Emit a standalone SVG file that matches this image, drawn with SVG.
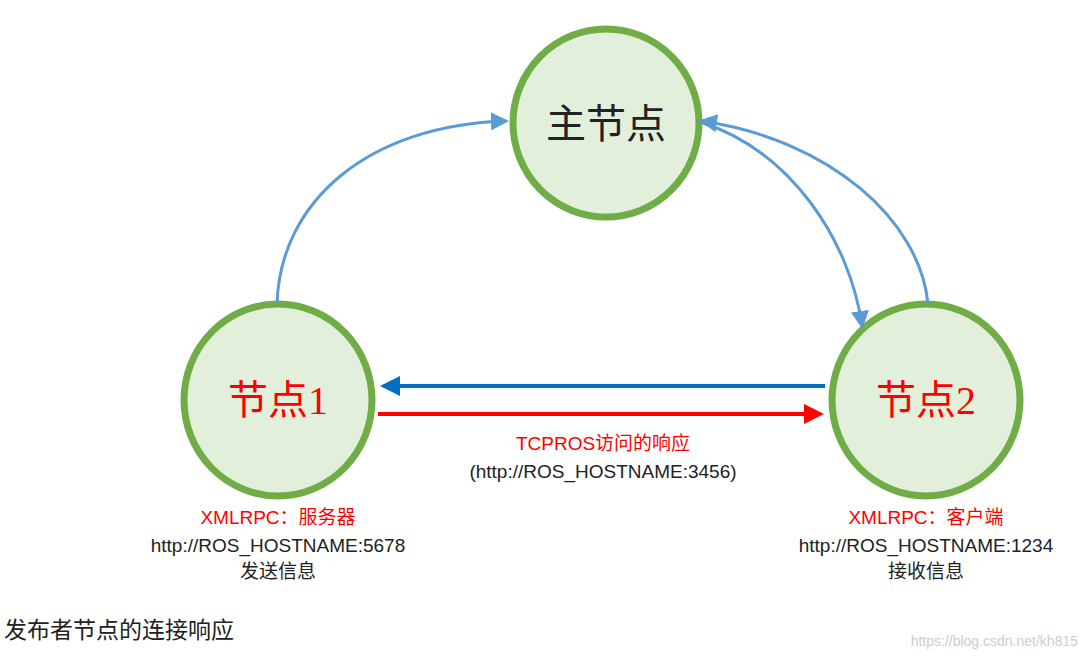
<svg xmlns="http://www.w3.org/2000/svg" width="1083" height="661" viewBox="0 0 1083 661">
<style>
.n{fill:#e2efda;stroke:#70ad47;stroke-width:7}
.cv{fill:none;stroke:#5b9bd5;stroke-width:3}
.lb{font-family:"Liberation Serif","Noto Sans CJK SC",serif;font-size:40px;text-anchor:middle}
.t{font-family:"Liberation Sans","Noto Sans CJK SC",sans-serif;font-size:19px;text-anchor:middle;fill:#222}
.r{fill:#ff0000}
</style>
<defs>
<marker id="ab" markerWidth="6" markerHeight="6" refX="5" refY="3" orient="auto"><path d="M0,0L6,3L0,6z" fill="#5b9bd5"/></marker>
<marker id="ad" markerWidth="5" markerHeight="5" refX="4" refY="2.5" orient="auto"><path d="M0,0L5,2.5L0,5z" fill="#0070c0"/></marker>
<marker id="ar" markerWidth="5" markerHeight="5" refX="4" refY="2.5" orient="auto"><path d="M0,0L5,2.5L0,5z" fill="#ff0000"/></marker>
</defs>
<g id="master"><ellipse class="n" cx="606" cy="123" rx="93" ry="94"/><text class="lb" x="606" y="138" fill="#222">主节点</text></g>
<g id="node1"><ellipse class="n" cx="278" cy="400" rx="94" ry="96"/><text class="lb" x="278" y="414" fill="#ff0000">节点1</text></g>
<g id="node2"><ellipse class="n" cx="926" cy="400" rx="94" ry="96"/><text class="lb" x="926" y="414" fill="#ff0000">节点2</text></g>
<g id="connectors">
<path class="cv" d="M277,304 C280,200 370,125 506,121" marker-end="url(#ab)"/>
<path class="cv" d="M700,122 C790,150 850,240 862,326" marker-end="url(#ab)"/>
<path class="cv" d="M928,304 C920,220 830,140 702,121" marker-end="url(#ab)"/>
<path d="M825,386 L384,386" stroke="#0070c0" stroke-width="4" marker-end="url(#ad)"/>
<path d="M378,414 L820,414" stroke="#ff0000" stroke-width="4" marker-end="url(#ar)"/>
</g>
<text class="t r" x="603" y="450" font-size="23">TCPROS访问的响应</text>
<text class="t" x="603" y="478">(http://ROS_HOSTNAME:3456)</text>
<text class="t r" x="278" y="524">XMLRPC：服务器</text>
<text class="t" x="278" y="552">http://ROS_HOSTNAME:5678</text>
<text class="t" x="278" y="578">发送信息</text>
<text class="t r" x="926" y="524">XMLRPC：客户端</text>
<text class="t" x="926" y="552">http://ROS_HOSTNAME:1234</text>
<text class="t" x="926" y="578">接收信息</text>
<text x="4" y="638" font-family="Liberation Sans,Noto Sans CJK SC,sans-serif" font-size="23" fill="#222">发布者节点的连接响应</text>
<text x="1078" y="646" text-anchor="end" font-family="Liberation Sans,sans-serif" font-size="14" fill="#ccc">https://blog.csdn.net/kh815</text>
</svg>
